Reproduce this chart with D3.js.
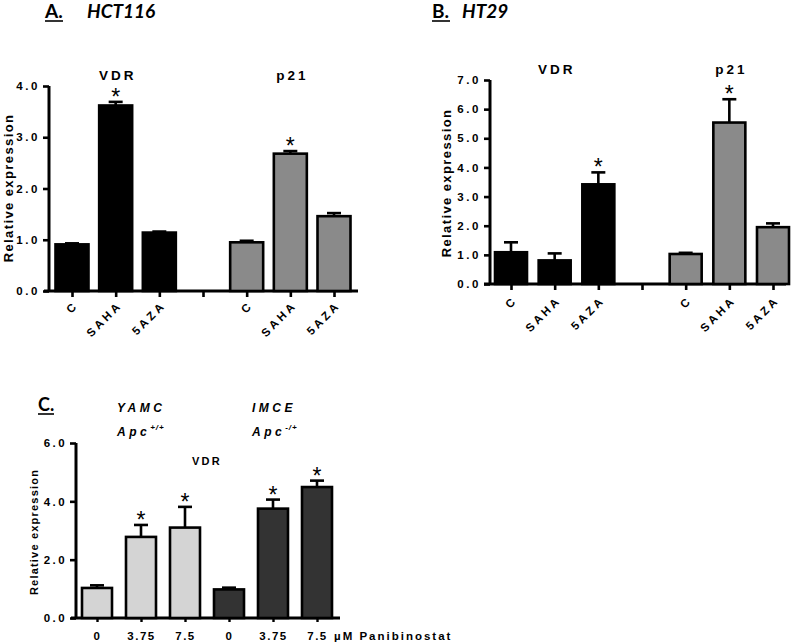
<!DOCTYPE html>
<html><head><meta charset="utf-8">
<script src="https://cdn.jsdelivr.net/npm/d3@7"></script>
<style>body{margin:0;background:#fff}svg{display:block}</style>
</head><body>
<svg id="chart" width="800" height="643"></svg>
<script>
// ---------- DATA ----------
const treatments = ["C", "SAHA", "5AZA"];
const genes = ["VDR", "p21"];
// Panel A: HCT116
const hct116VDR = [0.91, 3.62, 1.14];
const hct116VDRErr = [0.02, 0.07, 0.02];
const hct116P21 = [0.95, 2.68, 1.46];
const hct116P21Err = [0.03, 0.05, 0.06];
const hct116VDRSig = [false, true, false];
const hct116P21Sig = [false, true, false];
// Panel B: HT29
const ht29VDR = [1.09, 0.81, 3.42];
const ht29VDRErr = [0.34, 0.24, 0.41];
const ht29P21 = [1.03, 5.54, 1.95];
const ht29P21Err = [0.04, 0.80, 0.13];
const ht29VDRSig = [false, false, true];
const ht29P21Sig = [false, true, false];
// Panel C: mouse cells, VDR vs Panibinostat dose
const doses = ["0", "3.75", "7.5"];
const cellLines = ["YAMC", "IMCE"];
const yamcVDR = [1.03, 2.78, 3.10];
const yamcVDRErr = [0.09, 0.41, 0.71];
const imceVDR = [0.98, 3.75, 4.49];
const imceVDRErr = [0.06, 0.31, 0.22];
const yamcSig = [false, true, true];
const imceSig = [false, true, true];
const yTicksA = [0, 1, 2, 3, 4];
const yTicksB = [0, 1, 2, 3, 4, 5, 6, 7];
const yTicksC = [0, 2, 4, 6];

// ---------- DRAW ----------
const svg = d3.select("#chart");
const sans = "'Liberation Sans', Arial, sans-serif";
const titleFont = "Lato, 'Open Sans', sans-serif";

function drawBars(g, rows, x, y, bw, fill) {
  rows.forEach(r => {
    const cx = x(r.key);
    g.append("rect")
      .attr("x", cx - bw / 2).attr("y", y(r.v))
      .attr("width", bw).attr("height", y(0) - y(r.v))
      .attr("fill", fill).attr("stroke", "#000").attr("stroke-width", 2.6);
    const top = y(r.v + r.e);
    g.append("line").attr("x1", cx).attr("x2", cx).attr("y1", y(r.v)).attr("y2", top)
      .attr("stroke", "#000").attr("stroke-width", 2.6);
    g.append("line").attr("x1", cx - 7).attr("x2", cx + 7).attr("y1", top).attr("y2", top)
      .attr("stroke", "#000").attr("stroke-width", 2.6);
    if (r.sig) {
      g.append("text").attr("x", cx).attr("y", top + 3)
        .attr("text-anchor", "middle").attr("font-family", sans)
        .attr("font-size", 23).attr("fill", "#000").text("*");
    }
  });
}

function yAxis(g, y, x0, ticks, fs, ls) {
  const ax = g.append("g").attr("transform", `translate(${x0},0)`)
    .call(d3.axisLeft(y).tickValues(ticks).tickFormat(d3.format(".1f")).tickSize(6).tickPadding(3));
  ax.select(".domain").attr("stroke-width", 3).attr("d", `M0,${y.range()[1]}V${y.range()[0]}`);
  ax.selectAll(".tick line").attr("stroke-width", 2.6);
  ax.selectAll(".tick text").attr("font-family", sans).attr("font-weight", "bold")
    .attr("font-size", fs).attr("letter-spacing", ls).attr("fill", "#000");
  return ax;
}

function panelAB(opts) {
  const keys = [];
  treatments.forEach(t => keys.push("VDR|" + t));
  keys.push("gap");
  treatments.forEach(t => keys.push("p21|" + t));
  const x = d3.scalePoint().domain(keys).range(opts.xr);
  const y = d3.scaleLinear().domain([0, opts.ymax]).range(opts.yr);
  const g = svg.append("g");
  // x axis
  const xa = g.append("g").attr("transform", `translate(0,${opts.yr[0]})`)
    .call(d3.axisBottom(x).tickSize(6).tickFormat(""));
  xa.select(".domain").attr("stroke-width", 3).attr("d", `M${opts.xAxisStart},0H${opts.xAxisEnd}`);
  xa.selectAll(".tick line").attr("stroke-width", 2.6);
  yAxis(g, y, opts.yAxisX, opts.yTicks, 11.5, 2.6);
  // rotated category labels
  keys.forEach(k => {
    if (k === "gap") return;
    const lbl = k.split("|")[1];
    g.append("text")
      .attr("transform", `translate(${x(k) + 1},${opts.yr[0] + opts.lblOff}) rotate(-45)`)
      .attr("text-anchor", "end").attr("dy", "0.75em")
      .attr("font-family", sans).attr("font-weight", "bold").attr("font-size", 11.5)
      .attr("letter-spacing", 3).text(lbl);
  });
  const vdrRows = treatments.map((t, i) => ({key: "VDR|" + t, v: opts.vdr[i], e: opts.vdrErr[i], sig: opts.vdrSig[i]}));
  const p21Rows = treatments.map((t, i) => ({key: "p21|" + t, v: opts.p21[i], e: opts.p21Err[i], sig: opts.p21Sig[i]}));
  drawBars(g, vdrRows, x, y, opts.bw, "#000");
  drawBars(g, p21Rows, x, y, opts.bw, "#8a8a8a");
  // gene labels
  const vdrMid = x("VDR|SAHA"), p21Mid = x("p21|SAHA");
  [[genes[0], vdrMid], [genes[1], p21Mid]].forEach(([t, cx]) => {
    g.append("text").attr("x", cx + 2).attr("y", opts.geneY).attr("text-anchor", "middle")
      .attr("font-family", sans).attr("font-weight", "bold").attr("font-size", 13.5)
      .attr("letter-spacing", 3).text(t);
  });
  // y title
  g.append("text").attr("transform", `translate(${opts.yTitleX},${opts.yTitleY}) rotate(-90)`)
    .attr("text-anchor", "middle").attr("font-family", sans).attr("font-weight", "bold")
    .attr("font-size", 13).attr("letter-spacing", 1.4).text("Relative expression");
  // panel title
  g.append("text").attr("x", opts.titleX).attr("y", 18).attr("font-family", titleFont)
    .attr("font-weight", "bold").attr("font-size", 19).text(opts.letter);
  g.append("line").attr("x1", opts.titleX).attr("x2", opts.titleX + 18).attr("y1", 21).attr("y2", 21)
    .attr("stroke", "#000").attr("stroke-width", 1.6);
  g.append("text").attr("x", opts.cellX).attr("y", 18).attr("font-family", titleFont)
    .attr("font-weight", "bold").attr("font-style", "italic").attr("font-size", 19).text(opts.cell);
}

panelAB({
  xr: [72, 334], yr: [291, 86], ymax: 4, yTicks: yTicksA, yAxisX: 49,
  xAxisStart: 44, xAxisEnd: 358, bw: 33, lblOff: 9,
  vdr: hct116VDR, vdrErr: hct116VDRErr, vdrSig: hct116VDRSig,
  p21: hct116P21, p21Err: hct116P21Err, p21Sig: hct116P21Sig,
  geneY: 80, yTitleX: 13, yTitleY: 188,
  letter: "A.", titleX: 45, cell: "HCT116", cellX: 87
});
panelAB({
  xr: [511, 773], yr: [284, 80], ymax: 7, yTicks: yTicksB, yAxisX: 490,
  xAxisStart: 484, xAxisEnd: 786, bw: 32, lblOff: 11,
  vdr: ht29VDR, vdrErr: ht29VDRErr, vdrSig: ht29VDRSig,
  p21: ht29P21, p21Err: ht29P21Err, p21Sig: ht29P21Sig,
  geneY: 74, yTitleX: 451, yTitleY: 183,
  letter: "B.", titleX: 432, cell: "HT29", cellX: 462
});

// Panel C
(function () {
  const keys = [];
  cellLines.forEach(c => doses.forEach(d => keys.push(c + "|" + d)));
  const x = d3.scalePoint().domain(keys).range([97, 317]);
  const y = d3.scaleLinear().domain([0, 6]).range([618, 443]);
  const g = svg.append("g");
  const xa = g.append("g").attr("transform", "translate(0,618)")
    .call(d3.axisBottom(x).tickSize(4).tickFormat(k => k.split("|")[1]).tickPadding(10));
  xa.select(".domain").attr("stroke-width", 3).attr("d", "M71,0H340");
  xa.selectAll(".tick line").attr("stroke-width", 2.4);
  xa.selectAll(".tick text").attr("font-family", sans).attr("font-weight", "bold")
    .attr("font-size", 11.5).attr("letter-spacing", 1.5).attr("fill", "#000");
  yAxis(g, y, 76, yTicksC, 11.5, 2.4);
  const yRows = doses.map((d, i) => ({key: "YAMC|" + d, v: yamcVDR[i], e: yamcVDRErr[i], sig: yamcSig[i]}));
  const iRows = doses.map((d, i) => ({key: "IMCE|" + d, v: imceVDR[i], e: imceVDRErr[i], sig: imceSig[i]}));
  drawBars(g, yRows, x, y, 30, "#d4d4d4");
  drawBars(g, iRows, x, y, 30, "#333333");
  g.append("text").attr("x", 334).attr("y", 640).attr("font-family", sans).attr("font-weight", "bold")
    .attr("font-size", 11.5).attr("letter-spacing", 2).text("µM Panibinostat");
  g.append("text").attr("x", 207).attr("y", 465).attr("text-anchor", "middle")
    .attr("font-family", sans).attr("font-weight", "bold").attr("font-size", 11)
    .attr("letter-spacing", 2.2).text("VDR");
  g.append("text").attr("transform", "translate(38,532) rotate(-90)")
    .attr("text-anchor", "middle").attr("font-family", sans).attr("font-weight", "bold")
    .attr("font-size", 11).attr("letter-spacing", 1.2).text("Relative expression");
  g.append("text").attr("x", 38).attr("y", 411).attr("font-family", titleFont)
    .attr("font-weight", "bold").attr("font-size", 18).text("C.");
  g.append("line").attr("x1", 38).attr("x2", 54).attr("y1", 414).attr("y2", 414)
    .attr("stroke", "#000").attr("stroke-width", 1.6);
  const geno = [["YAMC", "+/+", 117], ["IMCE", "-/+", 252]];
  geno.forEach(([name, sup, gx]) => {
    g.append("text").attr("x", gx).attr("y", 412).attr("font-family", sans).attr("font-weight", "bold")
      .attr("font-style", "italic").attr("font-size", 12).attr("letter-spacing", 3.5).text(name);
    const t = g.append("text").attr("x", gx).attr("y", 436).attr("font-family", sans).attr("font-weight", "bold")
      .attr("font-style", "italic").attr("font-size", 12).attr("letter-spacing", 3.5);
    t.append("tspan").text("Apc");
    t.append("tspan").attr("dy", -6).attr("font-size", 8).attr("letter-spacing", 1).text(sup);
  });
})();
</script>
</body></html>
